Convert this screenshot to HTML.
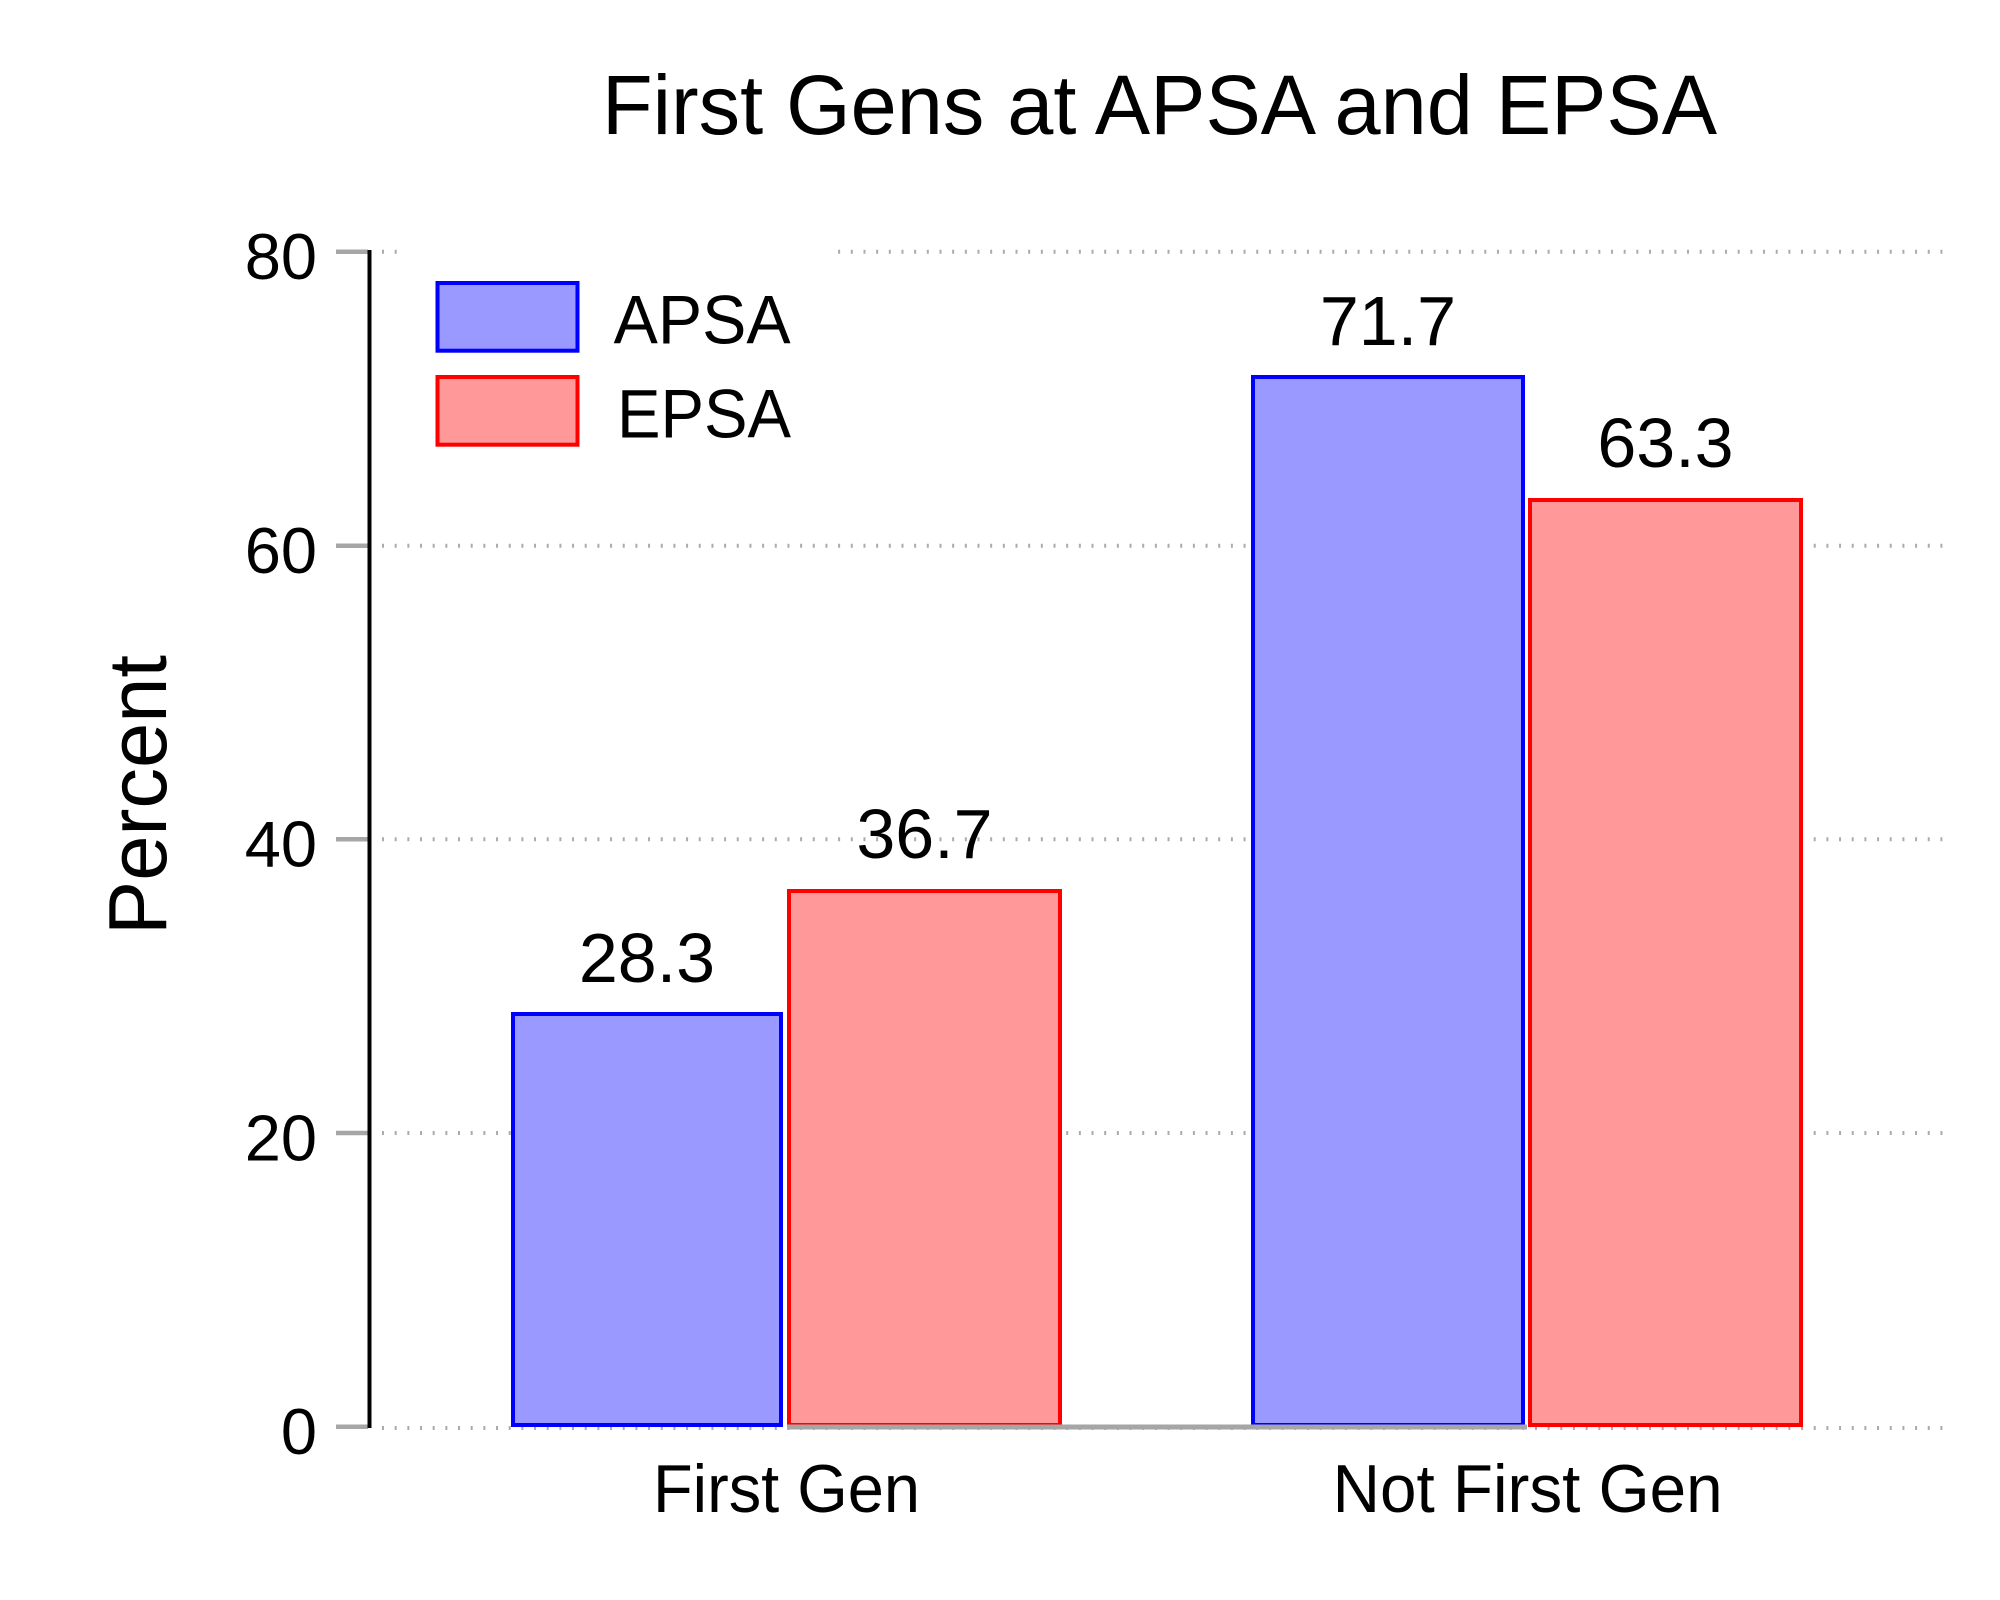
<!DOCTYPE html>
<html>
<head>
<meta charset="utf-8">
<style>
  html,body{margin:0;padding:0;background:#ffffff;}
  svg{display:block;}
  text{font-family:"Liberation Sans","Helvetica","Arial",sans-serif;fill:#000;}
</style>
</head>
<body>
<svg width="2000" height="1600" viewBox="0 0 2000 1600" xmlns="http://www.w3.org/2000/svg">
  <rect x="0" y="0" width="2000" height="1600" fill="#ffffff"/>

  <!-- Title -->
  <text x="1159.5" y="134" font-size="84" text-anchor="middle" textLength="1115" lengthAdjust="spacingAndGlyphs">First Gens at APSA and EPSA</text>

  <!-- dotted gridlines -->
  <g stroke="#ababab" stroke-width="4" stroke-dasharray="2 10.67" fill="none">
    <line x1="382" y1="251.7" x2="1945" y2="251.7"/>
    <line x1="382" y1="545.7" x2="1945" y2="545.7"/>
    <line x1="382" y1="839.3" x2="1945" y2="839.3"/>
    <line x1="382" y1="1133" x2="1945" y2="1133"/>
    <line x1="382" y1="1428" x2="1945" y2="1428"/>
  </g>

  <!-- legend background -->
  <rect x="405" y="238" width="431" height="222" fill="#ffffff"/>

  <!-- y tick marks -->
  <g stroke="#a6a6a6" stroke-width="4.5">
    <line x1="336" y1="251.7" x2="368" y2="251.7"/>
    <line x1="336" y1="545.7" x2="368" y2="545.7"/>
    <line x1="336" y1="839.3" x2="368" y2="839.3"/>
    <line x1="336" y1="1133" x2="368" y2="1133"/>
    <line x1="336" y1="1426.7" x2="368" y2="1426.7"/>
  </g>

  <!-- y axis -->
  <line x1="369.5" y1="250" x2="369.5" y2="1428" stroke="#000" stroke-width="4"/>

  <!-- y tick labels -->
  <g font-size="65" text-anchor="end">
    <text x="317" y="279">80</text>
    <text x="317" y="573">60</text>
    <text x="317" y="866.7">40</text>
    <text x="317" y="1160.5">20</text>
    <text x="317" y="1454">0</text>
  </g>

  <!-- y axis title -->
  <text x="0" y="0" font-size="83" text-anchor="middle" textLength="280" lengthAdjust="spacingAndGlyphs" transform="translate(166,795) rotate(-90)">Percent</text>

  <!-- bars -->
  <g stroke-width="4">
    <rect x="513" y="1014" width="268" height="411" fill="#9999ff" stroke="#0000ff"/>
    <rect x="789" y="891" width="271" height="534" fill="#ff9999" stroke="#ff0000"/>
    <rect x="1253" y="377" width="270" height="1048" fill="#9999ff" stroke="#0000ff"/>
    <rect x="1530" y="500" width="271" height="925" fill="#ff9999" stroke="#ff0000"/>
  </g>

  <!-- gray baseline segment -->
  <line x1="787" y1="1427" x2="1527" y2="1427" stroke="#a6a6a6" stroke-width="5"/>

  <!-- value labels -->
  <g font-size="70" text-anchor="middle">
    <text x="647" y="982">28.3</text>
    <text x="924.5" y="858">36.7</text>
    <text x="1388" y="345">71.7</text>
    <text x="1665.5" y="467">63.3</text>
  </g>

  <!-- legend -->
  <rect x="437.5" y="283" width="140" height="67.7" fill="#9999ff" stroke="#0000ff" stroke-width="4"/>
  <rect x="437.5" y="377" width="140" height="67.7" fill="#ff9999" stroke="#ff0000" stroke-width="4"/>
  <text x="613.6" y="343.3" font-size="69" textLength="177" lengthAdjust="spacingAndGlyphs">APSA</text>
  <text x="617" y="437.3" font-size="69" textLength="174" lengthAdjust="spacingAndGlyphs">EPSA</text>

  <!-- x labels -->
  <g font-size="68" text-anchor="middle">
    <text x="786.5" y="1512" textLength="267" lengthAdjust="spacingAndGlyphs">First Gen</text>
    <text x="1527.6" y="1512" textLength="390" lengthAdjust="spacingAndGlyphs">Not First Gen</text>
  </g>
</svg>
</body>
</html>
